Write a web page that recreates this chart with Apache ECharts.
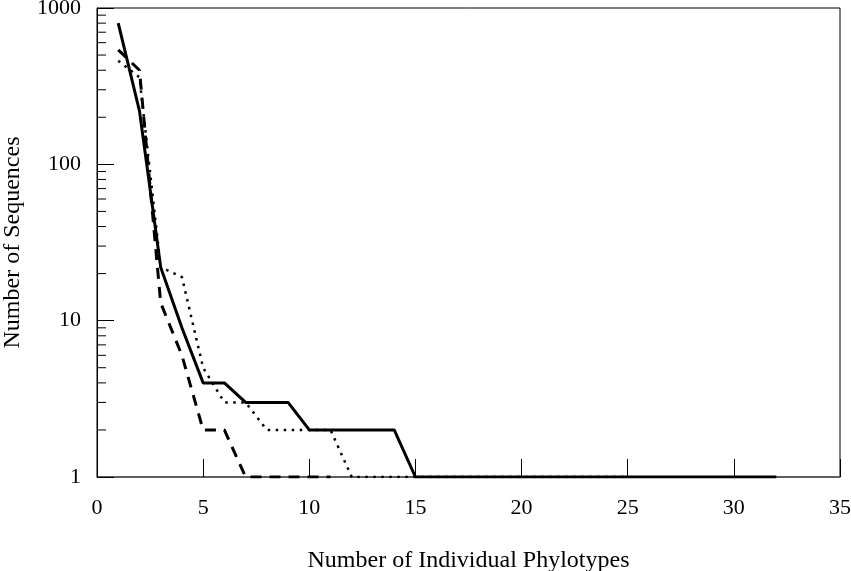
<!DOCTYPE html>
<html>
<head>
<meta charset="utf-8">
<script src="https://cdn.jsdelivr.net/npm/echarts@6/dist/echarts.min.js"></script>
<style>html,body{margin:0;padding:0;background:#fff}#c{width:851px;height:571px}</style>
</head>
<body>
<div id="c"></div>
<script>
const xLabel = 'Number of Individual Phylotypes';
const yLabel = 'Number of Sequences';
const solidX = [1,2,3,4,5,6,7,8,9,10,11,12,13,14,15,16,17,18,19,20,21,22,23,24,25,26,27,28,29,30,31,32];
const solidY = [800,220,22,9,4,4,3,3,3,2,2,2,2,2,1,1,1,1,1,1,1,1,1,1,1,1,1,1,1,1,1,1];
const dashedX = [1,2,3,4,5,6,7,8,9,10,11];
const dashedY = [540,400,13,6,2,2,1,1,1,1,1];
const dottedX = [1,2,3,4,5,6,7,8,9,10,11,12,13,14,15,16,17,18,19,20,21,22,23,24,25];
const dottedY = [460,360,22,19,5,3,3,2,2,2,2,1,1,1,1,1,1,1,1,1,1,1,1,1,1];
const minorTickValues = [2,3,4,5,6,7,8,9,20,30,40,50,60,70,80,90,200,300,400,500,600,700,800,900];

const font = 'Liberation Serif';
const zip = (xs, ys) => xs.map((x, i) => [x, ys[i]]);

const chart = echarts.init(document.getElementById('c'));
chart.setOption({
  animation: false,
  backgroundColor: '#fff',
  grid: { left: 97, right: 11, top: 8, bottom: 94, show: true, borderColor: '#000', borderWidth: 1, containLabel: false, outerBoundsMode: 'none' },
  xAxis: {
    type: 'value', min: 0, max: 35, interval: 5,
    name: xLabel, nameLocation: 'middle', nameGap: 72,
    nameTextStyle: { fontFamily: font, fontSize: 24, color: '#000' },
    axisLine: { lineStyle: { color: '#555', width: 1.5 } },
    axisTick: { inside: true, length: 18, lineStyle: { color: '#000' } },
    axisLabel: { fontFamily: font, fontSize: 22, color: '#000', margin: 20 },
    splitLine: { show: false }
  },
  yAxis: {
    type: 'log', min: 1, max: 1000, logBase: 10,
    name: yLabel, nameLocation: 'middle', nameGap: 72,
    nameTextStyle: { fontFamily: font, fontSize: 24, color: '#000' },
    axisLine: { lineStyle: { color: '#000', width: 1 } },
    axisTick: { inside: true, length: 17, lineStyle: { color: '#000' } },
    axisLabel: { fontFamily: font, fontSize: 22, color: '#000', margin: 16, formatter: v => String(v) },
    splitLine: { show: false }
  },
  series: [
    {
      type: 'custom', clip: false, silent: true,
      data: minorTickValues.map(v => [0, v]),
      renderItem: function (params, api) {
        const p = api.coord([0, api.value(1)]);
        return { type: 'line', shape: { x1: p[0], y1: p[1], x2: p[0] + 9, y2: p[1] }, style: { stroke: '#000', lineWidth: 1 } };
      }
    },
    {
      type: 'line', data: zip(dottedX, dottedY), symbol: 'none',
      lineStyle: { color: '#000', width: 2.5, type: [2.5, 5.5] }
    },
    {
      type: 'line', data: zip(dashedX, dashedY), symbol: 'none',
      lineStyle: { color: '#000', width: 3, type: [11, 8] }
    },
    {
      type: 'line', data: zip(solidX, solidY), symbol: 'none',
      lineStyle: { color: '#000', width: 3 }
    }
  ]
});
</script>
</body>
</html>
